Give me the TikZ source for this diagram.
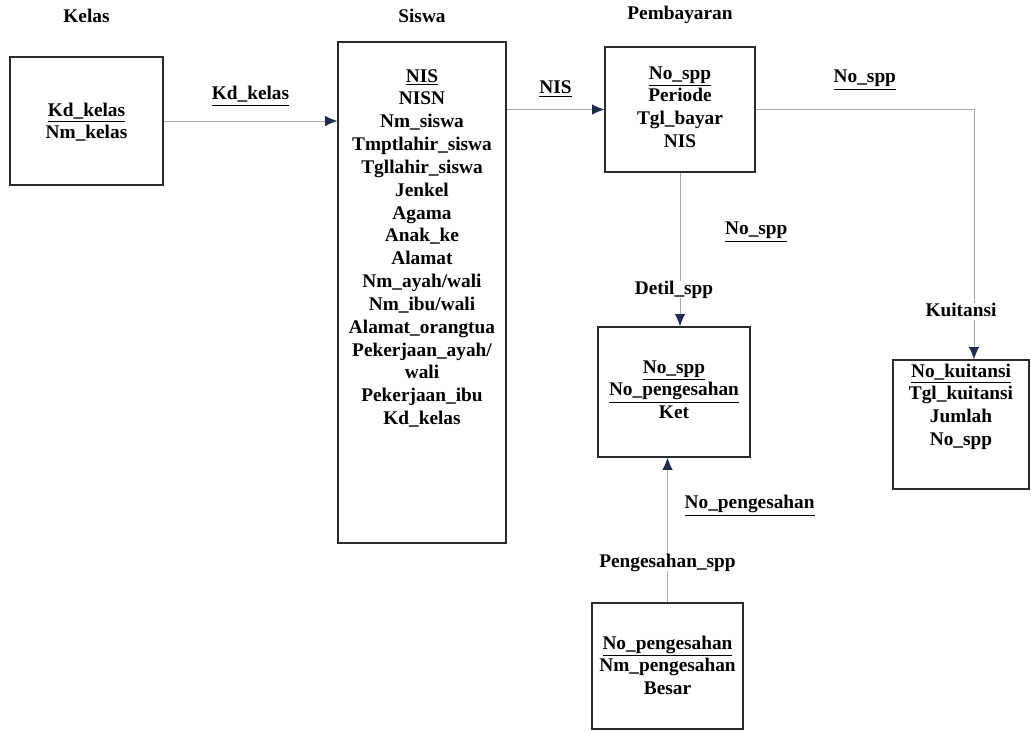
\documentclass[tikz,border=0pt]{standalone}
\usepackage{fontspec}
\setmainfont{Liberation Serif}
\usetikzlibrary{arrows.meta,positioning}
\definecolor{tipblue}{HTML}{1F2D4D}
\definecolor{linegray}{HTML}{A8A8A8}
\definecolor{boxgray}{HTML}{2B2B2B}

\begin{document}
\begin{tikzpicture}[x=0.02cm,y=-0.02cm,
          every node/.style={font=\bfseries\fontsize{11}{13}\selectfont},
          tbl/.style={draw=boxgray,line width=.8pt,align=center,inner sep=0pt},
          tabname/.style={fill=white,inner sep=1pt,text height=1.5ex,text depth=.25ex},
          rellab/.style={inner sep=1pt,text height=1.5ex,text depth=.25ex},
          rel/.style={draw=linegray,line width=.5pt,-{Latex[length=7pt,width=6pt,color=tipblue]}}
        ]
        \useasboundingbox (0,0) rectangle (1031,731);

        %tables
        \node[tbl,text width=3.06cm,text height=1.18cm,text depth=1.38cm] (kelas) at (86.5,121)
          {\underline{Kd\_kelas}\\Nm\_kelas};
        \node[tbl,text width=3.36cm,text height=0.8cm,text depth=9.22cm] (siswa) at (422,292.5)
          {\underline{NIS}\\NISN\\Nm\_siswa\\Tmptlahir\_siswa\\Tgllahir\_siswa\\Jenkel\\Agama\\Anak\_ke\\Alamat\\
           Nm\_ayah/wali\\Nm\_ibu/wali\\Alamat\_orangtua\\Pekerjaan\_ayah/\\wali\\Pekerjaan\_ibu\\Kd\_kelas};
        \node[tbl,text width=3.0cm,text height=0.64cm,text depth=1.86cm] (pembayaran) at (680,109.5)
          {\underline{No\_spp}\\Periode\\Tgl\_bayar\\NIS};
        \node[tbl,text width=3.04cm,text height=0.92cm,text depth=1.68cm] (detil) at (674,392)
          {\underline{No\_spp}\\\underline{No\_pengesahan}\\Ket};
        \node[tbl,text width=2.72cm,text height=0.34cm,text depth=2.24cm] (kuitansi) at (961,424.5)
          {\underline{No\_kuitansi}\\Tgl\_kuitansi\\Jumlah\\No\_spp};
        \node[tbl,text width=3.02cm,text height=0.92cm,text depth=1.6cm] (pengesahan) at (667.5,666)
          {\underline{No\_pengesahan}\\Nm\_pengesahan\\Besar};

        %relations
        \path[rel] (kelas.east) -- (kelas.east -| siswa.west)
          node[rellab,midway,above=0.34cm] (lkdkelas) {\underline{Kd\_kelas}};
        \path[rel] (pembayaran.west -| siswa.east) -- (pembayaran.west)
          node[rellab,midway,above=0.24cm] (lnis) {\underline{NIS}};
        \path[rel] (pembayaran.east) -| ([xshift=0.26cm]kuitansi.north)
          node[rellab,pos=0.25,above=0.45cm] (lnospp) {\underline{No\_spp}};
        \path[rel] (pembayaran.south) -- (pembayaran.south |- detil.north)
          node[rellab,pos=0.37,right=0.86cm] (lnosppdetil) {\underline{No\_spp}};
        \path[rel] (pengesahan.north) -- (pengesahan.north |- detil.south)
          node[rellab,pos=0.685,right=0.3cm] (lnopengesahan) {\underline{No\_pengesahan}};

        %table names
        \node[tabname,above=0.59cm of kelas] (tkelas) {Kelas};
        \node[tabname,above=0.29cm of siswa] (tsiswa) {Siswa};
        \node[tabname,above=0.45cm of pembayaran] (tpembayaran) {Pembayaran};
        \node[tabname,above=0.55cm of detil] (tdetil) {Detil\_spp};
        \node[tabname,above=0.77cm of kuitansi] (tkuitansi) {Kuitansi};
        \node[tabname,above=0.61cm of pengesahan] (tpengesahan) {Pengesahan\_spp};
    \end{tikzpicture}
\end{document}
